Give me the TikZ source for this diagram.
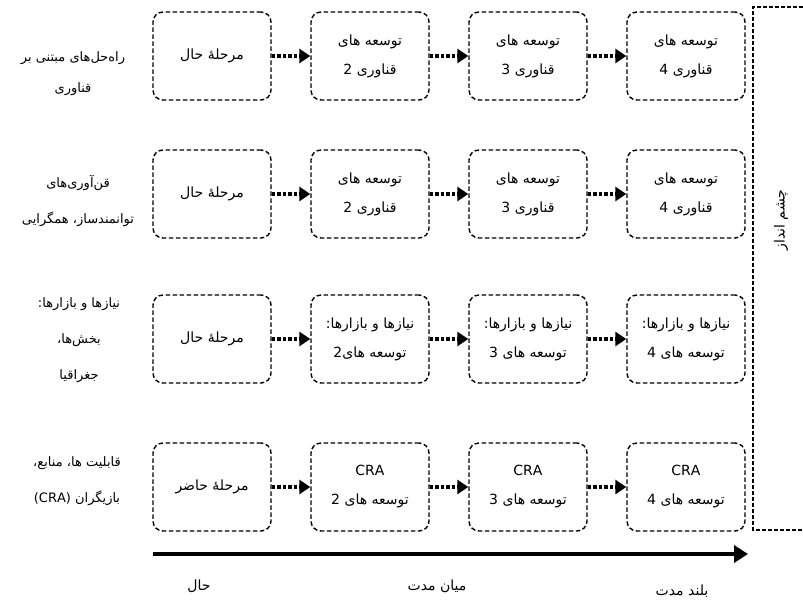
\documentclass[tikz,border=0pt]{standalone}
\usepackage{fontspec}
\usetikzlibrary{arrows.meta}
\newfontfamily\arabicfont[Script=Arabic]{DejaVu Sans}
\TeXXeTstate=1
\newcommand{\fatext}[1]{{\arabicfont\beginR #1\endR}}

\begin{document}
\begin{tikzpicture}[x=1pt,y=-1pt,
        stagebox/.style={draw, dash pattern=on 4.5pt off 2.5pt, line width=1.4pt,
            rounded corners=10pt, minimum width=118pt, minimum height=88pt,
            inner sep=0pt, align=center, font=\fontsize{14}{29}\selectfont},
        rowlabel/.style={align=center, font=\fontsize{13}{36}\selectfont},
        termlabel/.style={font=\fontsize{14}{16}\selectfont},
        flow/.style={line width=4pt, dash pattern=on 3.5pt off 2pt,
            -{Triangle[length=11pt,width=14pt]}},
        timeline/.style={line width=4.5pt, -{Triangle[length=14pt,width=17pt]}}]
        \useasboundingbox (0,0) rectangle (803,603);

        % row labels
        \node[rowlabel, font=\fontsize{13}{31}\selectfont] (lab1) at (73,74) {\fatext{راه‌حل‌های مبتنی بر}\\\fatext{قناوری}};
        \node[rowlabel] (lab2) at (78,201) {\fatext{قن‌آوری‌های}\\\fatext{توانمندساز، همگرایی}};
        \node[rowlabel] (lab3) at (79,340) {\fatext{نیازها و بازارها:}\\\fatext{بخش‌ها،}\\\fatext{جغراقیا}};
        \node[rowlabel] (lab4) at (77,481) {\fatext{قابلیت ها، منابع،}\\\fatext{بازیگران \beginL(CRA)\endL}};

        % row 1
        \node[stagebox] (r1c1) at (212,56) {\fatext{مرحلهٔ حال}};
        \node[stagebox] (r1c2) at (370,56) {\fatext{توسعه های}\\\fatext{قناوری 2}};
        \node[stagebox] (r1c3) at (528,56) {\fatext{توسعه های}\\\fatext{قناوری 3}};
        \node[stagebox] (r1c4) at (686,56) {\fatext{توسعه های}\\\fatext{قناوری 4}};

        % row 2
        \node[stagebox] (r2c1) at (212,194) {\fatext{مرحلهٔ حال}};
        \node[stagebox] (r2c2) at (370,194) {\fatext{توسعه های}\\\fatext{قناوری 2}};
        \node[stagebox] (r2c3) at (528,194) {\fatext{توسعه های}\\\fatext{قناوری 3}};
        \node[stagebox] (r2c4) at (686,194) {\fatext{توسعه های}\\\fatext{قناوری 4}};

        % row 3
        \node[stagebox] (r3c1) at (212,339) {\fatext{مرحلهٔ حال}};
        \node[stagebox] (r3c2) at (370,339) {\fatext{نیازها و بازارها:}\\\fatext{توسعه های2}};
        \node[stagebox] (r3c3) at (528,339) {\fatext{نیازها و بازارها:}\\\fatext{توسعه های 3}};
        \node[stagebox] (r3c4) at (686,339) {\fatext{نیازها و بازارها:}\\\fatext{توسعه های 4}};

        % row 4
        \node[stagebox] (r4c1) at (212,487) {\fatext{مرحلهٔ حاضر}};
        \node[stagebox] (r4c2) at (370,487) {{\arabicfont CRA}\\\fatext{توسعه های 2}};
        \node[stagebox] (r4c3) at (528,487) {{\arabicfont CRA}\\\fatext{توسعه های 3}};
        \node[stagebox] (r4c4) at (686,487) {{\arabicfont CRA}\\\fatext{توسعه های 4}};

        \draw[flow] (r1c1) -- (r1c2);
        \draw[flow] (r1c2) -- (r1c3);
        \draw[flow] (r1c3) -- (r1c4);
        \draw[flow] (r2c1) -- (r2c2);
        \draw[flow] (r2c2) -- (r2c3);
        \draw[flow] (r2c3) -- (r2c4);
        \draw[flow] (r3c1) -- (r3c2);
        \draw[flow] (r3c2) -- (r3c3);
        \draw[flow] (r3c3) -- (r3c4);
        \draw[flow] (r4c1) -- (r4c2);
        \draw[flow] (r4c2) -- (r4c3);
        \draw[flow] (r4c3) -- (r4c4);

        % vision frame
        \draw[dash pattern=on 4pt off 2pt, line width=1.1pt] (803,7) -- (753,7) -- (753,530) -- (803,530);
        \node[termlabel, rotate=90] (vision) at (781,220) {\fatext{چشم انداز}};

        % time axis
        \coordinate (t0) at (153,554);
        \coordinate (t1) at (748,554);
        \draw[timeline] (t0) -- (t1);
        \node[termlabel] (now) at (199,586) {\fatext{حال}};
        \node[termlabel] (mid) at (437,586) {\fatext{میان مدت}};
        \node[termlabel] (far) at (682,591) {\fatext{بلند مدت}};
\end{tikzpicture}
\end{document}
